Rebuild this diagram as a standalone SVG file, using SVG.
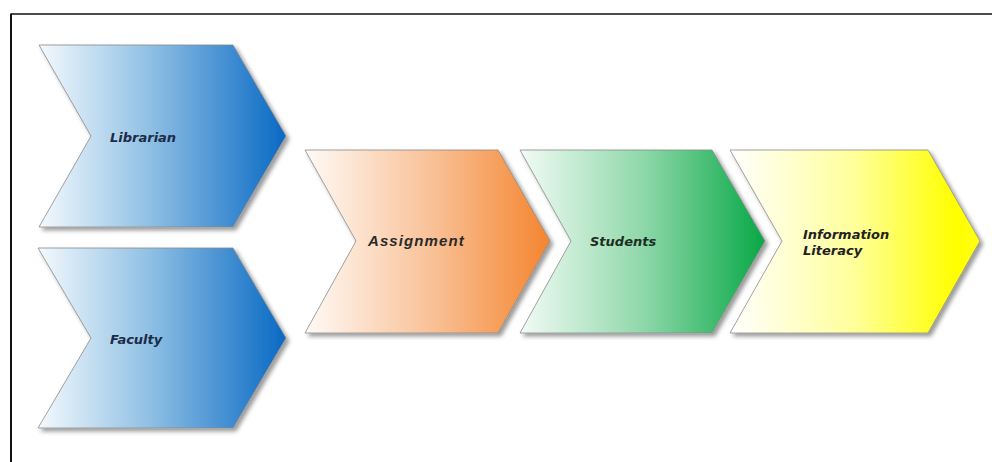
<svg xmlns="http://www.w3.org/2000/svg" width="992" height="462" viewBox="0 0 992 462">
  <defs>
    <linearGradient id="gBlue" x1="0" y1="0" x2="1" y2="0">
      <stop offset="0" stop-color="#f4f9fd"/>
      <stop offset="0.45" stop-color="#8fc0e4"/>
      <stop offset="1" stop-color="#0869c4"/>
    </linearGradient>
    <linearGradient id="gOrange" x1="0" y1="0" x2="1" y2="0">
      <stop offset="0" stop-color="#fffaf6"/>
      <stop offset="0.5" stop-color="#f9c39a"/>
      <stop offset="1" stop-color="#f4852f"/>
    </linearGradient>
    <linearGradient id="gGreen" x1="0" y1="0" x2="1" y2="0">
      <stop offset="0" stop-color="#f2fbf5"/>
      <stop offset="0.5" stop-color="#8fd8aa"/>
      <stop offset="1" stop-color="#08a846"/>
    </linearGradient>
    <linearGradient id="gYellow" x1="0" y1="0" x2="1" y2="0">
      <stop offset="0" stop-color="#ffffff"/>
      <stop offset="0.5" stop-color="#ffff9a"/>
      <stop offset="0.9" stop-color="#ffff00"/>
      <stop offset="1" stop-color="#ffff10"/>
    </linearGradient>
    <filter id="shadow" x="-10%" y="-10%" width="125%" height="125%">
      <feDropShadow dx="3" dy="3" stdDeviation="2" flood-color="#000" flood-opacity="0.4"/>
    </filter>
  </defs>
  <style>
    .chev { stroke: #8a8a8a; stroke-width: 0.8; filter: url(#shadow); }
    .lbl { font-family: "DejaVu Sans", Verdana, sans-serif; font-weight: bold; font-style: italic; font-size: 13px; }
    .lblA { font-family: "Liberation Sans", Arial, sans-serif; font-weight: bold; font-style: italic; font-size: 15px; letter-spacing: 1.1px; fill: #2a2a2a; }
  </style>
  <rect width="992" height="462" fill="#ffffff"/>
  <g id="frame" fill="none" stroke="#111">
    <line x1="11" y1="14" x2="992" y2="14" stroke-width="1.5"/>
    <line x1="11" y1="13.5" x2="11" y2="462" stroke-width="2"/>
  </g>
  <g id="connectors"></g>
  <g id="librarian">
    <path class="chev" fill="url(#gBlue)" d="M39 45 L233 45 L286 136 L233 227 L39 227 L91 136 Z"/>
    <text class="lbl" x="110" y="142" fill="#1b2b48">Librarian</text>
  </g>
  <g id="faculty">
    <path class="chev" fill="url(#gBlue)" d="M38 248 L233 248 L286 338 L233 428 L38 428 L91 338 Z"/>
    <text class="lbl" x="110" y="344" fill="#1b2b48">Faculty</text>
  </g>
  <g id="assignment">
    <path class="chev" fill="url(#gOrange)" d="M305 150 L498 150 L550 241 L498 333 L305 333 L356 241 Z"/>
    <text class="lblA" x="368" y="246">Assignment</text>
  </g>
  <g id="students">
    <path class="chev" fill="url(#gGreen)" d="M520 150 L712 150 L765 241 L712 333 L520 333 L571 241 Z"/>
    <text class="lbl" x="590" y="246" fill="#1c2e22">Students</text>
  </g>
  <g id="information-literacy">
    <path class="chev" fill="url(#gYellow)" d="M730 150 L928 150 L980 241 L928 333 L730 333 L782 241 Z"/>
    <text class="lbl" x="803" y="239" fill="#222" font-size="14">Information</text>
    <text class="lbl" x="803" y="255" fill="#222" font-size="14">Literacy</text>
  </g>
</svg>
